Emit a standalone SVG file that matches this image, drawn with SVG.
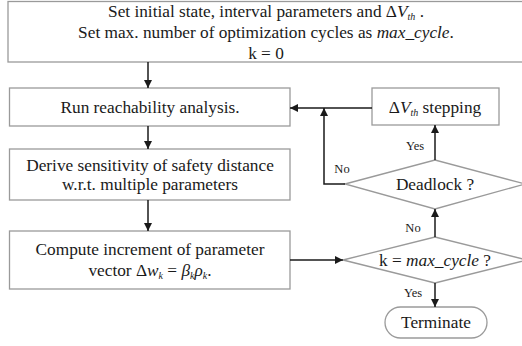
<svg xmlns="http://www.w3.org/2000/svg" width="522" height="346" viewBox="0 0 522 346">
  <defs>
    <marker id="arrow" viewBox="0 0 10 10" refX="10" refY="5" markerWidth="8" markerHeight="8" markerUnits="userSpaceOnUse" orient="auto">
      <path d="M0,0 L10,5 L0,10 z" fill="#1a1a1a"/>
    </marker>
  </defs>
  <style>
    .box { fill: #ffffff; stroke: #9a9a9a; stroke-width: 1.3; }
    .txt { font-family: "Liberation Serif", "Times New Roman", serif; font-size: 17.3px; fill: #1a1a1a; text-anchor: middle; }
    .lbl { font-family: "Liberation Serif", "Times New Roman", serif; font-size: 12.5px; fill: #1a1a1a; text-anchor: middle; }
    .it { font-style: italic; }
    .sub { font-size: 10px; font-style: italic; }
    .conn { fill: none; stroke: #1a1a1a; stroke-width: 1.5; }
  </style>
  <rect width="522" height="346" fill="#ffffff"/>

  <g id="init">
    <rect class="box" x="8" y="1.5" width="530" height="60.5"/>
    <text class="txt" x="266" y="17">Set initial state, interval parameters and Δ<tspan class="it">V</tspan><tspan class="sub" dy="3">th</tspan><tspan dy="-3"> .</tspan></text>
    <text class="txt" x="266" y="38">Set max. number of optimization cycles as <tspan class="it">max_cycle</tspan>.</text>
    <text class="txt" x="266" y="59">k = 0</text>
  </g>

  <g id="reach">
    <rect class="box" x="9.5" y="88" width="280.5" height="38"/>
    <text class="txt" x="150" y="113">Run reachability analysis.</text>
  </g>

  <g id="sensitivity">
    <rect class="box" x="9.5" y="149" width="280.5" height="51"/>
    <text class="txt" x="150" y="171">Derive sensitivity of safety distance</text>
    <text class="txt" x="150" y="190">w.r.t. multiple parameters</text>
  </g>

  <g id="increment">
    <rect class="box" x="9.5" y="231" width="280.5" height="58"/>
    <text class="txt" x="150" y="255">Compute increment of parameter</text>
    <text class="txt" x="150" y="276">vector Δ<tspan class="it">w</tspan><tspan class="sub" dy="3">k</tspan><tspan dy="-3"> = </tspan><tspan class="it">β</tspan><tspan class="sub" dy="3">k</tspan><tspan class="it" dy="-3">ρ</tspan><tspan class="sub" dy="3">k</tspan><tspan dy="-3">.</tspan></text>
  </g>

  <g id="stepping">
    <rect class="box" x="372" y="88" width="127" height="37"/>
    <text class="txt" x="435" y="113">Δ<tspan class="it">V</tspan><tspan class="sub" dy="3">th</tspan><tspan dy="-3"> stepping</tspan></text>
  </g>

  <g id="deadlock">
    <polygon class="box" points="345,184 435,160 525,184 435,209"/>
    <text class="txt" x="435" y="190">Deadlock ?</text>
  </g>

  <g id="maxcycle">
    <polygon class="box" points="343,260 435,237 527,260 435,283"/>
    <text class="txt" x="435" y="266">k = <tspan class="it">max_cycle</tspan> ?</text>
  </g>

  <g id="terminate">
    <rect class="box" x="385" y="307" width="102" height="31" rx="15.5"/>
    <text class="txt" x="436" y="328">Terminate</text>
  </g>

  <g id="connectors">
    <line class="conn" x1="148" y1="62" x2="148" y2="88" marker-end="url(#arrow)"/>
    <line class="conn" x1="148" y1="126" x2="148" y2="149" marker-end="url(#arrow)"/>
    <line class="conn" x1="148" y1="200" x2="148" y2="231" marker-end="url(#arrow)"/>
    <line class="conn" x1="290" y1="260" x2="343" y2="260" marker-end="url(#arrow)"/>
    <line class="conn" x1="435" y1="237" x2="435" y2="209" marker-end="url(#arrow)"/>
    <line class="conn" x1="435" y1="160" x2="435" y2="125" marker-end="url(#arrow)"/>
    <line class="conn" x1="372" y1="108" x2="290" y2="108" marker-end="url(#arrow)"/>
    <polyline class="conn" points="345,184 324,184 324,108" marker-end="url(#arrow)"/>
    <line class="conn" x1="435" y1="283" x2="435" y2="307" marker-end="url(#arrow)"/>
    <text class="lbl" x="415" y="150">Yes</text>
    <text class="lbl" x="342" y="173">No</text>
    <text class="lbl" x="413" y="232">No</text>
    <text class="lbl" x="413" y="297">Yes</text>
  </g>
</svg>
